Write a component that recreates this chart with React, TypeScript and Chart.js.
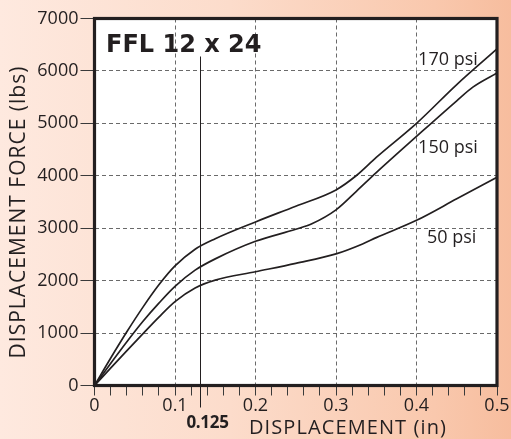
import React, { useEffect, useRef } from "react";
import { Chart, registerables } from "chart.js";
Chart.register(...registerables);

// Displacement (in) and force (lbs) for each pressure curve
const X_170 = [0, 0.02, 0.04, 0.06, 0.08, 0.1, 0.125, 0.15, 0.2, 0.25, 0.3, 0.325, 0.35, 0.4, 0.45, 0.5];
const F_170 = [0, 520, 1020, 1490, 1920, 2280, 2600, 2800, 3120, 3420, 3730, 4000, 4350, 5000, 5740, 6420];
const X_150 = [0, 0.02, 0.04, 0.06, 0.08, 0.1, 0.125, 0.15, 0.2, 0.25, 0.27, 0.3, 0.325, 0.35, 0.4, 0.45, 0.47, 0.5];
const F_150 = [0, 420, 830, 1220, 1570, 1890, 2200, 2415, 2750, 2980, 3085, 3350, 3700, 4060, 4750, 5430, 5690, 5960];
const X_50 = [0, 0.02, 0.04, 0.06, 0.08, 0.1, 0.125, 0.15, 0.2, 0.25, 0.3, 0.333, 0.35, 0.4, 0.45, 0.5];
const F_50 = [0, 330, 660, 985, 1305, 1600, 1860, 2010, 2170, 2330, 2510, 2700, 2820, 3150, 3560, 3970];

const SERIES_NAMES = ["170 psi", "150 psi", "50 psi"];
// label anchor (left, baseline) in data units
const LABEL_X = [0.402, 0.402, 0.413];
const LABEL_Y = [6113, 4429, 2712];

const X_MIN = 0, X_MAX = 0.5, X_STEP = 0.02, X_MAJOR = 0.1;
const Y_MIN = 0, Y_MAX = 7000, Y_STEP = 1000;
const MARK_LABEL = "0.125";
const MARK_X = 0.131; // where the reference draws its 0.125 marker line
const TITLE = "FFL 12 x 24";
const X_TITLE = "DISPLACEMENT (in)";
const Y_TITLE = "DISPLACEMENT FORCE (lbs)";

const INK = "#231f20";
const GRID = "#6a6a6a";

const zip = (xs: number[], ys: number[]) => xs.map((x, i) => ({ x, y: ys[i] }));
const isMajor = (v: number) => Math.abs(v / X_MAJOR - Math.round(v / X_MAJOR)) < 1e-6;

const decorPlugin = {
  id: "decor",
  beforeDraw(chart: any) {
    const { ctx, chartArea: a } = chart;
    ctx.save();
    ctx.fillStyle = "#ffffff";
    ctx.fillRect(a.left, a.top, a.right - a.left, a.bottom - a.top);
    ctx.restore();
  },
  afterDatasetsDraw(chart: any) {
    const { ctx, chartArea: a, scales } = chart;
    const xs = scales.x, ys = scales.y;
    ctx.save();
    // 0.125 marker line
    const mx = Math.round(xs.getPixelForValue(MARK_X)) + 0.5;
    ctx.strokeStyle = INK;
    ctx.lineWidth = 1;
    ctx.beginPath();
    ctx.moveTo(mx, a.top + 38);
    ctx.lineTo(mx, a.bottom + 22);
    ctx.stroke();
    // frame
    ctx.lineWidth = 3.2;
    ctx.strokeRect(a.left, a.top, a.right - a.left, a.bottom - a.top);

    ctx.fillStyle = INK;
    // title
    ctx.font = "bold 24px 'DejaVu Sans'";
    ctx.textAlign = "left";
    ctx.textBaseline = "alphabetic";
    ctx.fillText(TITLE, a.left + 11.5, a.top + 33.5);
    // series labels
    ctx.font = "18px 'Open Sans'";
    SERIES_NAMES.forEach((n, i) => {
      ctx.fillText(n, xs.getPixelForValue(LABEL_X[i]), ys.getPixelForValue(LABEL_Y[i]));
    });
    // marker label
    ctx.font = "bold 17px 'Open Sans'";
    ctx.textAlign = "center";
    (ctx as any).letterSpacing = "-0.3px";
    ctx.fillText(MARK_LABEL, mx + 7, a.bottom + 42);
    // x title
    ctx.font = "20px 'Open Sans'";
    (ctx as any).letterSpacing = "1.1px";
    ctx.fillText(X_TITLE, 348, a.bottom + 48);
    // y title
    ctx.font = "21px 'Open Sans'";
    (ctx as any).letterSpacing = "1px";
    ctx.translate(25, (a.top + a.bottom) / 2 + 10);
    ctx.rotate(-Math.PI / 2);
    ctx.fillText(Y_TITLE, 0, 0);
    (ctx as any).letterSpacing = "0px";
    ctx.restore();
  },
};

export default function App() {
  const ref = useRef<HTMLCanvasElement>(null);
  useEffect(() => {
    if (!ref.current) return;
    const line = (xs: number[], ys: number[]) => ({
      data: zip(xs, ys),
      borderColor: INK,
      borderWidth: 1.7,
      pointRadius: 0,
      fill: false,
      cubicInterpolationMode: "monotone" as const,
    });
    const chart = new Chart(ref.current, {
      type: "line",
      data: {
        datasets: [line(X_170, F_170), line(X_150, F_150), line(X_50, F_50)],
      },
      options: {
        animation: false,
        responsive: false,
        devicePixelRatio: 1,
        layout: { padding: { top: 18.5, right: 14, left: 0, bottom: 0 } },
        plugins: { legend: { display: false }, tooltip: { enabled: false } },
        scales: {
          x: {
            type: "linear",
            min: X_MIN,
            max: X_MAX,
            afterFit: (s: any) => { s.height = 53.5; },
            ticks: {
              stepSize: X_STEP,
              maxTicksLimit: 100,
              autoSkip: false,
              maxRotation: 0,
              padding: 0,
              color: INK,
              font: { family: "'Open Sans'", size: 18 },
              callback: (v: any) => {
                const n = Number(v);
                if (!isMajor(n)) return "";
                const r = Math.round(n * 10) / 10;
                return r === 0 ? "0" : String(r);
              },
            },
            grid: {
              color: (c: any) => {
                const v = c.tick ? c.tick.value : 0;
                return isMajor(v) && v > X_MIN + 1e-6 && v < X_MAX - 1e-6 ? GRID : "rgba(0,0,0,0)";
              },
              lineWidth: 1,
              tickColor: "#3a3a3a",
              tickLength: 10,
              tickWidth: 1,
              tickBorderDash: [],
            },
            border: { display: false, dash: [4, 3] },
          },
          y: {
            type: "linear",
            min: Y_MIN,
            max: Y_MAX,
            afterFit: (s: any) => { s.width = 94.5; },
            ticks: {
              stepSize: Y_STEP,
              padding: 2,
              color: INK,
              font: { family: "'Open Sans'", size: 18 },
              callback: (v: any) => String(v),
            },
            grid: {
              color: (c: any) => {
                const v = c.tick ? c.tick.value : 0;
                return v > Y_MIN && v < Y_MAX ? GRID : "rgba(0,0,0,0)";
              },
              lineWidth: 1,
              tickColor: "#3a3a3a",
              tickLength: 14,
              tickWidth: 1,
              tickBorderDash: [],
            },
            border: { display: false, dash: [4, 3] },
          },
        },
      },
      plugins: [decorPlugin],
    } as any);
    return () => chart.destroy();
  }, []);
  return (
    <div
      style={{
        position: "absolute",
        left: 0,
        top: 0,
        width: 511,
        height: 439,
        background: "linear-gradient(to right, #fee9df 0%, #fcdccb 45%, #f9c8ad 85%, #f7bd9e 100%)",
      }}
    >
      <canvas ref={ref} width={511} height={439} style={{ display: "block" }} />
    </div>
  );
}
